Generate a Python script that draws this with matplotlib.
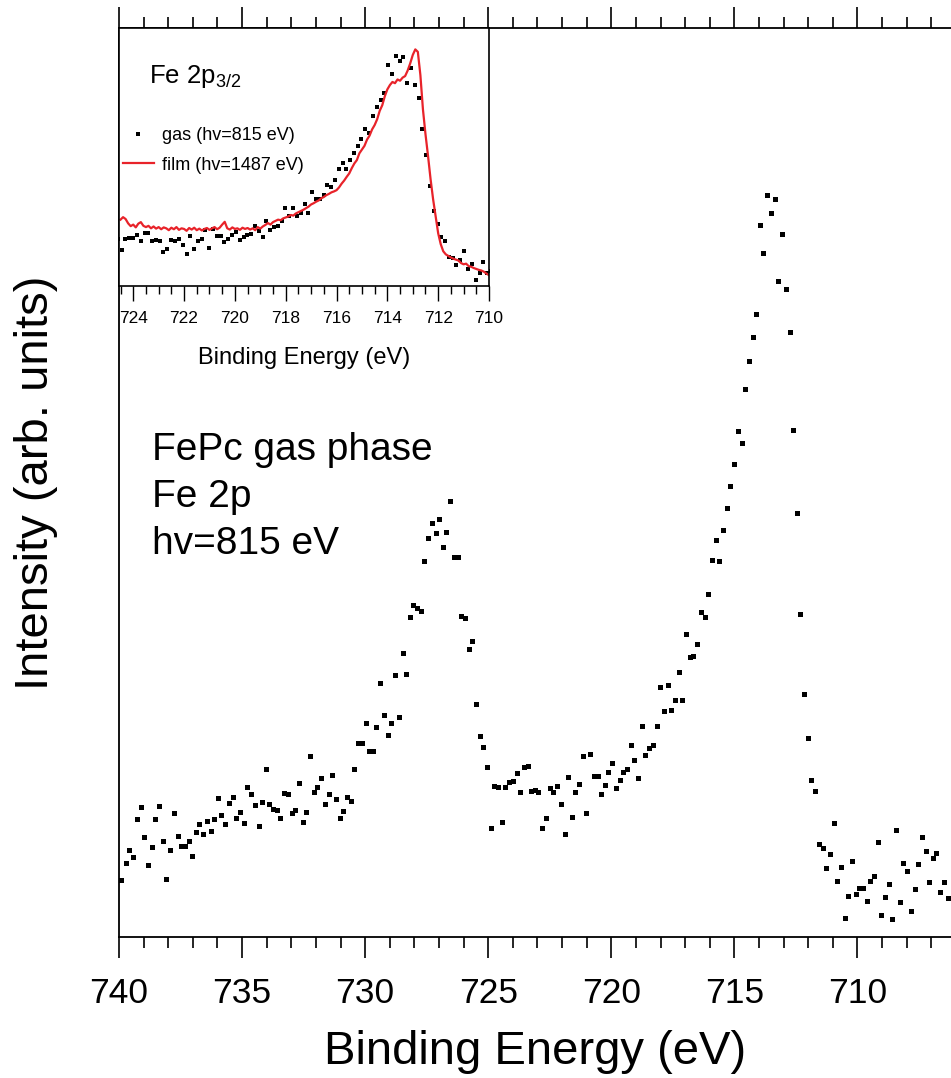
import matplotlib
matplotlib.use('Agg')
import matplotlib.pyplot as plt
from matplotlib.ticker import MultipleLocator

plt.rcParams['font.family'] = ['Liberation Sans', 'DejaVu Sans']
plt.rcParams['mathtext.default'] = 'regular'

# ---------------- data ----------------
# Gas phase Fe 2p spectrum (hv = 815 eV), binding energy in eV
gas_energy = [
    739.92, 739.72, 739.58, 739.42, 739.27, 739.12, 738.97, 738.81, 738.67, 738.53,
    738.38, 738.23, 738.08, 737.93, 737.77, 737.62, 737.47, 737.32, 737.17, 737.03,
    736.88, 736.73, 736.58, 736.43, 736.28, 736.14, 735.97, 735.84, 735.69, 735.54,
    735.38, 735.23, 735.08, 734.93, 734.78, 734.63, 734.48, 734.33, 734.19, 734.04,
    733.89, 733.74, 733.59, 733.44, 733.30, 733.13, 732.98, 732.83, 732.69, 732.54,
    732.39, 732.24, 732.09, 731.94, 731.80, 731.63, 731.48, 731.33, 731.19, 731.04,
    730.89, 730.74, 730.59, 730.44, 730.30, 730.13, 729.98, 729.83, 729.69, 729.54,
    729.39, 729.24, 729.09, 728.94, 728.80, 728.63, 728.48, 728.33, 728.19, 728.04,
    727.89, 727.74, 727.59, 727.44, 727.29, 727.14, 726.99, 726.85, 726.70, 726.55,
    726.40, 726.24, 726.09, 725.94, 725.80, 725.65, 725.50, 725.35, 725.20, 725.05,
    724.90, 724.75, 724.60, 724.46, 724.31, 724.16, 724.01, 723.85, 723.70, 723.55,
    723.40, 723.25, 723.10, 722.96, 722.81, 722.66, 722.51, 722.36, 722.20, 722.05,
    721.90, 721.75, 721.60, 721.46, 721.31, 721.16, 721.01, 720.86, 720.71, 720.56,
    720.41, 720.26, 720.12, 719.96, 719.81, 719.66, 719.51, 719.36, 719.21, 719.06,
    718.91, 718.76, 718.62, 718.45, 718.30, 718.15, 718.01, 717.86, 717.71, 717.56,
    717.41, 717.26, 717.12, 716.97, 716.82, 716.67, 716.51, 716.36, 716.21, 716.06,
    715.91, 715.76, 715.62, 715.47, 715.32, 715.17, 715.02, 714.86, 714.71, 714.56,
    714.41, 714.26, 714.12, 713.97, 713.82, 713.67, 713.52, 713.37, 713.22, 713.07,
    712.92, 712.76, 712.62, 712.47, 712.32, 712.17, 712.02, 711.87, 711.72, 711.57,
    711.42, 711.28, 711.13, 710.97, 710.82, 710.67, 710.52, 710.37, 710.22, 710.07,
    709.92, 709.78, 709.63, 709.48, 709.33, 709.18, 709.03, 708.88, 708.73, 708.58,
    708.42, 708.28, 708.13, 707.98, 707.83, 707.68, 707.53, 707.38, 707.23, 707.08,
    706.94, 706.79, 706.64, 706.49, 706.34,
]
gas_intensity = [
    57, 74, 87, 80, 118, 130, 100, 72, 90, 118,
    131, 96, 58, 87, 124, 101, 91, 91, 96, 81,
    105, 113, 103, 116, 106, 118, 139, 122, 113, 134,
    140, 119, 125, 114, 150, 143, 132, 111, 135, 168,
    133, 128, 127, 119, 144, 143, 124, 127, 154, 115,
    125, 181, 145, 150, 159, 133, 143, 162, 138, 119,
    126, 140, 136, 168, 194, 194, 214, 186, 186, 210,
    254, 222, 202, 214, 262, 220, 284, 263, 320, 332,
    329, 326, 376, 399, 414, 404, 418, 390, 405, 436,
    380, 380, 321, 319, 288, 296, 233, 201, 190, 170,
    109, 151, 150, 115, 150, 155, 156, 164, 145, 170,
    171, 146, 147, 145, 109, 119, 149, 145, 151, 133,
    103, 160, 120, 145, 153, 181, 124, 183, 161, 161,
    143, 152, 165, 174, 149, 157, 165, 168, 192, 177,
    159, 211, 182, 189, 192, 211, 250, 226, 252, 227,
    237, 265, 237, 303, 280, 281, 293, 325, 320, 343,
    377, 397, 376, 407, 429, 451, 473, 506, 494, 548,
    576, 600, 623, 712, 684, 742, 724, 738, 656, 703,
    648, 605, 507, 424, 323, 243, 199, 157, 146, 93,
    89, 69, 83, 114, 56, 70, 19, 41, 76, 43,
    49, 49, 36, 56, 61, 95, 22, 40, 53, 18,
    107, 35, 74, 66, 26, 48, 73, 100, 86, 55,
    79, 84, 45, 55, 39,
]

# Film Fe 2p3/2 spectrum (hv = 1487 eV), same arbitrary scale as the inset
film_energy = [
    724.5, 724.4, 724.3, 724.2, 724.1, 724.0, 723.9, 723.8, 723.7, 723.6,
    723.5, 723.4, 723.3, 723.2, 723.1, 723.0, 722.9, 722.8, 722.7, 722.6,
    722.5, 722.4, 722.3, 722.2, 722.1, 722.0, 721.9, 721.8, 721.7, 721.6,
    721.5, 721.4, 721.3, 721.2, 721.1, 721.0, 720.9, 720.8, 720.7, 720.6,
    720.5, 720.4, 720.3, 720.2, 720.1, 720.0, 719.9, 719.8, 719.7, 719.6,
    719.5, 719.4, 719.3, 719.2, 719.1, 719.0, 718.9, 718.8, 718.7, 718.6,
    718.5, 718.4, 718.3, 718.2, 718.1, 718.0, 717.9, 717.8, 717.7, 717.6,
    717.5, 717.4, 717.3, 717.2, 717.1, 717.0, 716.9, 716.8, 716.7, 716.6,
    716.5, 716.4, 716.3, 716.2, 716.1, 716.0, 715.9, 715.8, 715.7, 715.6,
    715.5, 715.4, 715.3, 715.2, 715.1, 715.0, 714.9, 714.8, 714.7, 714.6,
    714.5, 714.4, 714.3, 714.2, 714.1, 714.0, 713.9, 713.8, 713.7, 713.6,
    713.5, 713.4, 713.3, 713.2, 713.1, 713.0, 712.9, 712.8, 712.7, 712.6,
    712.5, 712.4, 712.3, 712.2, 712.1, 712.0, 711.9, 711.8, 711.7, 711.6,
    711.5, 711.4, 711.3, 711.2, 711.1, 711.0, 710.9, 710.8, 710.7, 710.6,
    710.5, 710.4, 710.3, 710.2, 710.1, 710.0,
]
film_intensity = [
    214, 222, 216, 202, 193, 198, 189, 201, 206, 194,
    190, 194, 186, 192, 185, 190, 183, 189, 186, 180,
    188, 183, 190, 181, 186, 184, 178, 187, 182, 188,
    180, 185, 179, 184, 187, 181, 186, 190, 183, 188,
    198, 207, 186, 182, 189, 184, 186, 181, 188, 184,
    187, 182, 186, 180, 190, 185, 192, 197, 203, 198,
    206, 210, 214, 212, 218, 221, 224, 229, 227, 234,
    238, 242, 246, 251, 256, 263, 267, 272, 276, 283,
    287, 293, 297, 302, 305, 309, 318, 330, 340, 352,
    363, 380, 395, 406, 428, 440, 452, 472, 485, 505,
    519, 538, 565, 583, 612, 634, 648, 658, 654, 666,
    662, 672, 677, 695, 718, 745, 763, 755, 680, 570,
    490, 420, 345, 280, 225, 170, 135, 112, 102, 97,
    92, 88, 85, 82, 74, 70, 72, 64, 62, 58,
    55, 52, 50, 46, 40, 35,
]

main_xticks = [740, 735, 730, 725, 720, 715, 710]
inset_xticks = [724, 722, 720, 718, 716, 714, 712, 710]

# ---------------- figure ----------------
W, H = 951, 1078
fig = plt.figure(figsize=(W / 100, H / 100), dpi=100)

ax = fig.add_axes([119 / W, 1 - 937 / H, 832 / W, 909 / H])
ax.plot(gas_energy, gas_intensity, ls='none', marker='s', ms=3.6, mew=0,
        color='black')
ax.set_xlim(740, 706.2)
ax.set_ylim(0, 909)
ax.set_xticks(main_xticks)
ax.xaxis.set_minor_locator(MultipleLocator(1))
ax.tick_params(axis='x', which='both', direction='out', top=True, bottom=True,
               labelsize=25.5, width=1.2, pad=14)
ax.tick_params(axis='x', which='major', length=15)
ax.tick_params(axis='x', which='minor', length=8)
ax.set_yticks([])
ax.spines['right'].set_visible(False)
for s in ['left', 'top', 'bottom']:
    ax.spines[s].set_linewidth(1.3)
ax.set_xlabel('Binding Energy (eV)', fontsize=34, labelpad=14)
ax.set_ylabel('Intensity (arb. units)', fontsize=34, labelpad=44)

def yfrac(py):
    return (937 - py) / 909

for txt, py in [('FePc gas phase', 460), ('Fe 2p', 507), ('hv=815 eV', 554)]:
    ax.text((151.7 - 119) / 832, yfrac(py), txt, transform=ax.transAxes,
            fontsize=28, va='baseline', ha='left')

# ---------------- inset ----------------
axi = fig.add_axes([119 / W, 1 - 286 / H, 370 / W, 258 / H])
axi.plot(gas_energy, gas_intensity, ls='none', marker='s', ms=3.0, mew=0,
         color='black', label='gas (hv=815 eV)')
axi.plot(film_energy, film_intensity, color='#e8232a', lw=1.6,
         label='film (hv=1487 eV)')
axi.set_xlim(724.56, 710)
axi.set_ylim(0, 832)
axi.set_xticks(inset_xticks)
axi.xaxis.set_minor_locator(MultipleLocator(0.5))
axi.tick_params(axis='x', which='both', direction='out', labelsize=12.5,
                width=1.0, pad=7)
axi.tick_params(axis='x', which='major', length=11)
axi.tick_params(axis='x', which='minor', length=6)
axi.set_yticks([])
for s in axi.spines.values():
    s.set_linewidth(1.2)
axi.set_xlabel('Binding Energy (eV)', fontsize=17, labelpad=15)
axi.text((149 - 119) / 370, (286 - 83.3) / 258, 'Fe 2p$_{3/2}$',
         transform=axi.transAxes, fontsize=18.5, va='baseline', ha='left')
axi.legend(loc='upper left', bbox_to_anchor=(0.011, 0.615), frameon=False,
           fontsize=13, handlelength=1.7, handletextpad=0.45,
           labelspacing=0.68, borderpad=0, borderaxespad=0, numpoints=1)

fig.savefig('out.png', dpi=100)
